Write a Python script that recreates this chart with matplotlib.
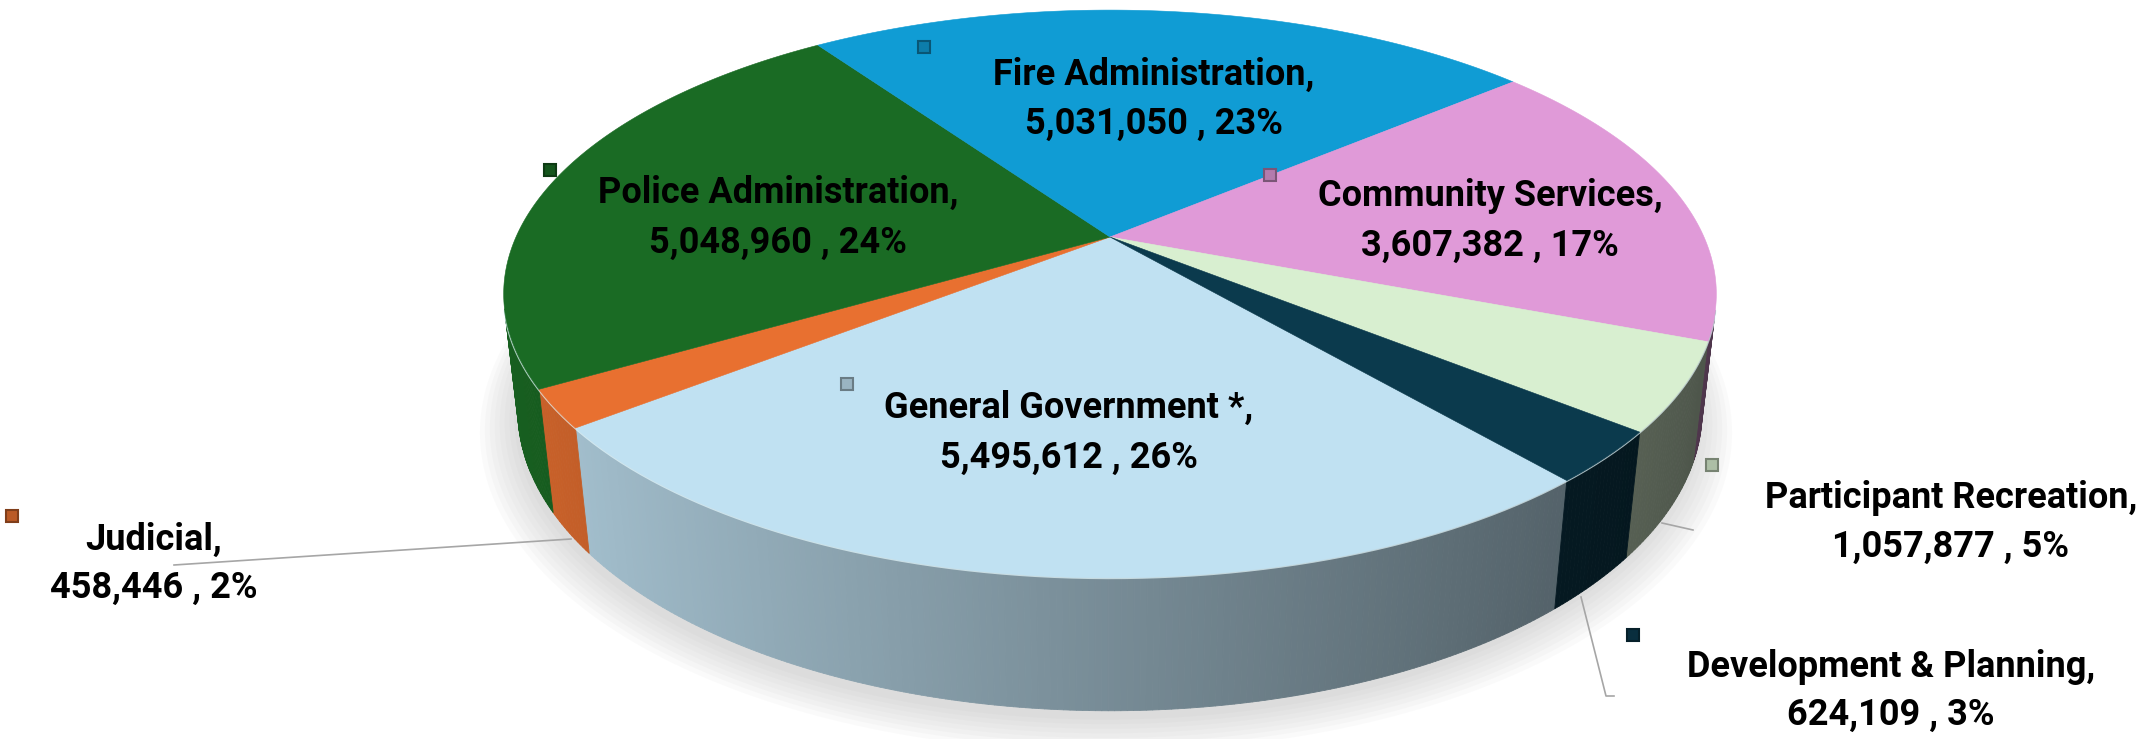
import numpy as np
import matplotlib
matplotlib.use('Agg')
import matplotlib.pyplot as plt
from matplotlib.collections import PolyCollection
from matplotlib.colors import to_rgb

# data (clockwise order, starting with General Government)
categories = ['General Government *', 'Judicial', 'Police Administration',
              'Fire Administration', 'Community Services',
              'Participant Recreation', 'Development & Planning']
values = [5495612, 458446, 5048960, 5031050, 3607382, 1057877, 624109]
percents = [26, 2, 24, 23, 17, 5, 3]
colors = ['#c0e1f2', '#e87030', '#1a6b24', '#109cd4', '#e09ad8', '#d8efd0', '#0b3a4d']

# label layout in pixels: (x, y line 1, y line 2), marker position, leader line
label_pos = [(1069, 408, 458), (154, 540, 588), (778, 193, 243), (1154, 75, 124),
             (1490, 196, 246), (1951, 498, 547), (1891, 667, 715)]
marker_pos = [(847, 384), (12, 516), (550, 170), (924, 47), (1270, 175), (1712, 465), (1633, 635)]
leaders = {1: [(174, 565), (571, 539)],
           5: [(1662, 523), (1693, 530)],
           6: [(1581, 597), (1606, 696), (1614, 696)]}

W, H = 2151, 739
cx, cy = 1110, 237       # pie centre on screen
S = 594                  # radius scale
elev = np.radians(27.3)  # view elevation
D = 4.43                 # camera distance
h = 0.222                # pie thickness
start = 310.7            # angle where first slice starts (deg), going clockwise
se, ce = np.sin(elev), np.cos(elev)


def project(x, y, z):
    up = y * se + z * ce
    d = D + y * ce - z * se
    return cx + S * x * D / d, cy - S * up * D / d


def rim(theta, z):
    t = np.radians(theta)
    return project(np.cos(t), np.sin(t), z)


fig = plt.figure(figsize=(W / 100, H / 100), dpi=100)
ax = fig.add_axes([0, 0, 1, 1])
ax.set_xlim(0, W)
ax.set_ylim(H, 0)
ax.axis('off')

vals = np.array(values, dtype=float)
cum = np.concatenate([[0], np.cumsum(vals / vals.sum())])
a0s = start - 360 * cum[:-1]
a1s = start - 360 * cum[1:]

# soft shadow under the pie
for k in range(8):
    r = 1.0 + 0.008 * k
    th = np.linspace(0, 360, 361)
    t = np.radians(th)
    sx, sy = project(r * np.cos(t), r * np.sin(t), -h - 0.01)
    ax.fill(sx - 4, sy + 3 + k, color='#808080', alpha=0.035, lw=0, zorder=1)

# side walls (only the part that faces the viewer)
vis = -1.0 / (D * ce)
polys, fcols = [], []
for a0, a1, col in zip(a0s, a1s, colors):
    base = np.array(to_rgb(col))
    n = max(3, int(abs(a0 - a1) * 2))
    th = np.linspace(a1, a0, n)
    for t0, t1 in zip(th[:-1], th[1:]):
        tm = 0.5 * (t0 + t1)
        if np.sin(np.radians(tm)) >= vis:
            continue
        x0, y0 = rim(t0, 0)
        x1, y1 = rim(t1, 0)
        x2, y2 = rim(t1, -h)
        x3, y3 = rim(t0, -h)
        polys.append([(x0, y0), (x1, y1), (x2, y2), (x3, y3)])
        f = np.clip(0.62 - 0.28 * np.cos(np.radians(tm)), 0.3, 0.95)
        fcols.append(tuple(base * f))
ax.add_collection(PolyCollection(polys, facecolors=fcols, edgecolors=fcols,
                                 linewidths=0.6, zorder=2))

# light highlight along the front top rim
th = np.linspace(180, 360, 400)
th = th[np.sin(np.radians(th)) < vis]
hx, hy = rim(th, 0)
ax.plot(hx, hy, color='#e8fbff', lw=2, alpha=0.7, zorder=3, solid_capstyle='round')

# top faces
for a0, a1, col in zip(a0s, a1s, colors):
    n = max(3, int(abs(a0 - a1) * 2))
    th = np.linspace(a0, a1, n)
    px, py = rim(th, 0)
    px = np.concatenate([[cx], px])
    py = np.concatenate([[cy], py])
    ax.fill(px, py, color=col, lw=0.4, ec=col, zorder=4)

# labels, markers, leader lines
fam = ['Liberation Sans Narrow', 'Roboto', 'DejaVu Sans']
for i, (cat, v, p) in enumerate(zip(categories, values, percents)):
    x, y1, y2 = label_pos[i]
    ax.text(x, y1, cat + ',', ha='center', va='center', fontsize=26,
            fontweight='bold', family=fam, color='black', zorder=6)
    ax.text(x, y2, f'{v:,} , {p}%', ha='center', va='center', fontsize=26,
            fontweight='bold', family=fam, color='black', zorder=6)
    mx, my = marker_pos[i]
    base = np.array(to_rgb(colors[i]))
    ax.plot(mx, my, marker='s', ms=9, mfc=tuple(base * 0.8), mec=tuple(base * 0.55),
            mew=1.5, zorder=6)
for i, pts in leaders.items():
    lx, ly = zip(*pts)
    ax.plot(lx, ly, color='#a6a6a6', lw=1.2, zorder=5)

fig.savefig('out.png', dpi=100)
